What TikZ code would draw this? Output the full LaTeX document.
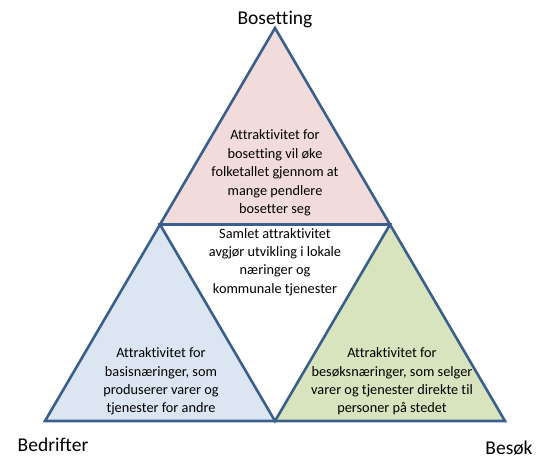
\documentclass[tikz,border=0pt]{standalone}
\usepackage{fontspec}
\setmainfont{Carlito}[Ligatures=NoCommon]
\definecolor{edgeblue}{HTML}{3A5F8B}
\definecolor{pinkfill}{HTML}{F2DCDB}
\definecolor{bluefill}{HTML}{DCE6F2}
\definecolor{greenfill}{HTML}{D7E4BD}
\begin{document}
\begin{tikzpicture}[x=1pt, y=-1pt,
    side/.style={draw=edgeblue, line width=2.6pt, line join=miter},
    info/.style={align=center, inner sep=0pt, font=\fontsize{14.3}{18.4}\selectfont},
    corner/.style={inner sep=0pt, font=\fontsize{19.5}{22}\selectfont}]

      \useasboundingbox (0,0) rectangle (537,460);

      \coordinate (top) at (275,28);
      \coordinate (bl) at (45,421);
      \coordinate (br) at (505,421);
      \coordinate (ml) at (160,224.5);
      \coordinate (mr) at (390,224.5);
      \coordinate (mb) at (275,421);

      \fill[pinkfill] (top) -- (ml) -- (mr) -- cycle;
      \fill[bluefill] (ml) -- (bl) -- (mb) -- cycle;
      \fill[greenfill] (mr) -- (mb) -- (br) -- cycle;

      \draw[side] (top) -- (bl) -- (br) -- cycle;
      \draw[side] (ml) -- (mr) -- (mb) -- cycle;

      \node[corner] (bosetting) at (275,19) {Bosetting};
      \node[corner] (bedrifter) at (53,445) {Bedrifter};
      \node[corner] (besok) at (509,448) {Besøk};

      \node[info] (attbo) at (275,173) {Attraktivitet for\\bosetting vil øke\\folketallet gjennom at\\mange pendlere\\bosetter seg};
      \node[info] (samlet) at (275,262) {Samlet attraktivitet\\avgjør utvikling i lokale\\næringer og\\kommunale tjenester};
      \node[info] (attbasis) at (161,381.5) {Attraktivitet for\\basisnæringer, som\\produserer varer og\\tjenester for andre};
      \node[info] (attbesok) at (392,381.5) {Attraktivitet for\\besøksnæringer, som selger\\varer og tjenester direkte til\\personer på stedet};
    \end{tikzpicture}
\end{document}
